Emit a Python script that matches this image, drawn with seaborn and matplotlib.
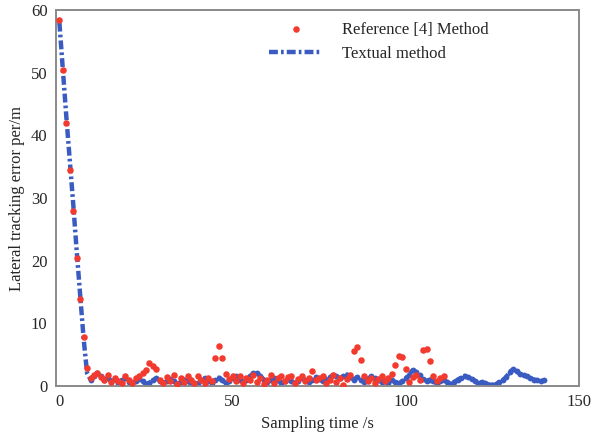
import matplotlib
matplotlib.use('Agg')
import matplotlib.pyplot as plt
import seaborn as sns
import pandas as pd
import numpy as np

# 采样数据
ref_values = [58.5, 50.5, 42, 34.5, 28, 20.5, 13.8, 7.8, 2.9, 1.2,
              1.8, 2.0, 1.4, 0.9, 1.7, 0.6, 1.3, 0.8, 0.5, 1.5,
              0.9, 0.4, 1.2, 1.6, 2.0, 2.6, 3.6, 3.2, 2.7, 1.0,
              0.5, 1.4, 0.8, 1.8, 0.3, 1.2, 0.6, 1.5, 0.9, 0.4,
              1.6, 1.0, 0.5, 1.3, 0.8, 4.5, 6.4, 4.4, 1.9, 1.1,
              1.6, 0.7, 1.5, 0.4, 1.2, 0.9, 1.8, 0.6, 1.3, 0.3,
              1.0, 1.7, 0.5, 1.2, 1.5, 0.8, 1.4, 1.6, 0.5, 1.1,
              1.5, 0.7, 1.3, 2.4, 0.9, 1.2, 1.6, 0.4, 1.0, 1.8,
              0.6, 1.3, 0.2, 1.1, 1.7, 5.5, 6.2, 4.1, 1.6, 0.8,
              1.3, 0.4, 1.1, 1.6, 0.7, 1.2, 1.9, 3.3, 4.8, 4.6,
              2.7, 0.6, 1.4, 1.8, 0.9, 5.8, 5.9, 3.9, 1.5, 0.7,
              1.2, 1.5]

text_values = [58, 50.5, 43, 36, 29, 21.5, 14.5, 7.5, 2.0, 1.0,
               1.6, 2.0, 1.5, 1.0, 1.3, 0.8, 1.1, 0.5, 0.9, 1.2,
               0.6, 0.3, 0.8, 1.1, 0.7, 0.3, 0.5, 0.9, 1.2, 0.8,
               0.4, 0.8, 1.1, 0.7, 0.3, 0.6, 1.0, 0.7, 0.4, 0.2,
               0.5, 0.9, 1.2, 0.8, 0.5, 0.9, 1.3, 0.9, 0.5, 0.8,
               1.2, 1.5, 1.0, 0.6, 1.0, 1.5, 2.0, 2.1, 1.6, 1.0,
               0.6, 0.9, 1.3, 0.9, 0.5, 0.8, 1.1, 0.7, 0.4, 0.8,
               1.2, 0.9, 0.6, 1.0, 1.4, 1.1, 0.7, 1.0, 1.4, 1.7,
               1.5, 1.2, 1.5, 1.8, 1.4, 1.0, 1.4, 1.0, 0.6, 1.1,
               1.5, 1.3, 0.9, 0.6, 0.8, 0.5, 0.9, 0.6, 0.4, 0.7,
               1.2, 1.8, 2.5, 2.2, 1.7, 1.1, 0.8, 1.0, 0.7, 0.4,
               0.8, 1.0, 0.6, 0.3, 0.6, 1.0, 1.3, 1.6, 1.4, 1.1,
               0.8, 0.5, 0.6, 0.4, 0.2, 0.15, 0.3, 0.6, 0.9, 1.4,
               2.2, 2.7, 2.3, 1.9, 1.7, 1.5, 1.2, 1.0, 0.9, 0.8,
               0.9]

sample_step = 1.0  # 采样间隔 s
ref_time = np.arange(len(ref_values)) * sample_step
text_time = np.arange(len(text_values)) * sample_step

x_ticks = [0, 50, 100, 150]
y_ticks = [0, 10, 20, 30, 40, 50, 60]

ref_df = pd.DataFrame({'time': ref_time, 'error': ref_values})
text_df = pd.DataFrame({'time': text_time, 'error': text_values})

sns.set_style('white')
plt.rcParams['font.family'] = ['Liberation Serif', 'DejaVu Serif']

fig = plt.figure(figsize=(5.95, 4.43), dpi=100)
ax = fig.add_axes([0.094, 0.129, 0.879, 0.848])

# 参考方法: 散点
sns.scatterplot(data=ref_df, x='time', y='error', ax=ax, color='#f23a2e',
                s=22, linewidth=0, label='Reference [4] Method', zorder=3)
# 本文方法: 粗点划线, 平稳段加小圆点
sns.lineplot(data=text_df, x='time', y='error', ax=ax, color='#3a5cc2',
             linewidth=3.2, marker='o', markersize=4.2, markeredgewidth=0,
             markevery=list(range(9, len(text_values))),
             label='Textual method', zorder=2)
ax.lines[-1].set_dashes((2.0, 0.7, 0.6, 0.7))

ax.set_xlim(-1, 150)
ax.set_ylim(0, 60)
ax.set_xticks(x_ticks)
ax.set_yticks(y_ticks)
ax.tick_params(axis='both', direction='in', length=5, width=1,
               color='#555555', labelsize=12, pad=6,
               top=False, right=False)
for sp in ax.spines.values():
    sp.set_color('#8a8a8a')
    sp.set_linewidth(1.4)

ax.set_xlabel('Sampling time /s', fontsize=12, labelpad=4)
ax.set_ylabel('Lateral tracking error per/m', fontsize=12, labelpad=4)

leg = ax.legend(loc='upper right', frameon=False, fontsize=12,
                handlelength=3.2, handletextpad=1.2, borderaxespad=0.3,
                labelspacing=0.5, bbox_to_anchor=(0.85, 1.0))
# 图例中的线不显示圆点
leg.get_lines()[-1].set_marker('None')

fig.savefig('out.png', dpi=100)
plt.close(fig)
print('图已保存到: out.png')
